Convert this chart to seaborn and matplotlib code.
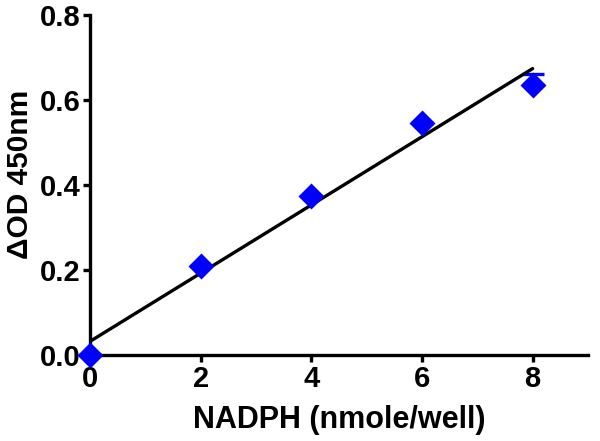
import matplotlib
matplotlib.use("Agg")
import matplotlib.pyplot as plt
import seaborn as sns
import numpy as np
import pandas as pd
from matplotlib.ticker import FormatStrFormatter

nadph = [0, 2, 4, 6, 8]
delta_od = [0.0, 0.21, 0.375, 0.545, 0.635]
od_err_up = [0.0, 0.0, 0.0, 0.0, 0.026]
od_err_down = [0.0, 0.0, 0.0, 0.0, 0.0]
x_ticks = [0, 2, 4, 6, 8]
y_ticks = [0.0, 0.2, 0.4, 0.6, 0.8]

df = pd.DataFrame({"x": nadph, "y": delta_od})

sns.set_style("ticks")
plt.rcParams['font.family'] = ['Liberation Sans', 'DejaVu Sans']
plt.rcParams['font.weight'] = 'bold'

fig = plt.figure(figsize=(6.0, 4.41), dpi=100)
ax = fig.add_axes([0.15, 0.195, 0.83, 0.771])

# error bars (behind markers), upward only
ax.errorbar(df["x"], df["y"], yerr=[od_err_down, od_err_up], fmt="none",
            ecolor="#0000ff", elinewidth=2, capsize=8, capthick=2.4,
            zorder=2, clip_on=False)

# regression line + points
sns.regplot(data=df, x="x", y="y", ax=ax, ci=None, truncate=True,
            scatter=False, line_kws=dict(color="black", lw=2.4, zorder=3))
sns.scatterplot(data=df, x="x", y="y", ax=ax, marker="D", s=175,
                color="#0000ff", edgecolor="#0000ff", linewidth=0,
                zorder=4, clip_on=False)

ax.set_xlim(0, 9)
ax.set_ylim(0, 0.8)
ax.set_xticks(x_ticks)
ax.set_yticks(y_ticks)
ax.yaxis.set_major_formatter(FormatStrFormatter("%.1f"))
sns.despine(ax=ax)
for s in ["left", "bottom"]:
    ax.spines[s].set_linewidth(2.4)
    ax.spines[s].set_color("black")
ax.tick_params(axis="both", width=2.4, length=5, labelsize=21, pad=2,
               colors="black")
for lab in ax.get_xticklabels() + ax.get_yticklabels():
    lab.set_fontweight("bold")

ax.set_xlabel("NADPH (nmole/well)", fontsize=22, fontweight="bold",
              color="black", va="center")
ax.set_ylabel("\u0394OD 450nm", fontsize=21.5, fontweight="bold",
              color="black", va="center")
ax.xaxis.set_label_coords(0.5, -0.19)
ax.yaxis.set_label_coords(-0.14, 0.53)

fig.savefig("out.png", dpi=100)
